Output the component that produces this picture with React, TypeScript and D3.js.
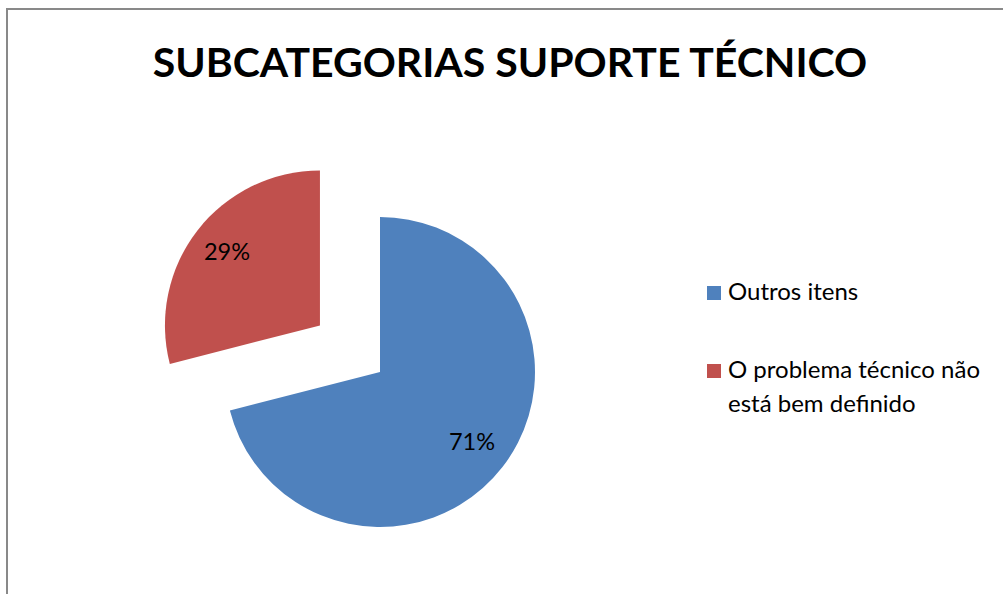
import React from "react";
import * as d3 from "d3";

const categories = ["Outros itens", "O problema técnico não está bem definido"];
const legendLines = [["Outros itens"], ["O problema técnico não", "está bem definido"]];
const values = [71, 29];
const labels = ["71%", "29%"];
const colors = ["#4f81bd", "#c0504d"];
const title = "SUBCATEGORIAS SUPORTE TÉCNICO";

export default function App() {
  const W = 1003, H = 594;
  const cx = 380, cy = 372, r = 155, explode = 76;
  const pie = d3.pie<number>().sort(null).value((d) => d)(values);
  const arc = d3.arc<any>().innerRadius(0).outerRadius(r);
  const font = "Lato, 'Open Sans', sans-serif";
  const labelPos = [
    [472, 444],
    [227, 254],
  ];
  return (
    <svg width={W} height={H} style={{ position: "absolute", left: 0, top: 0 }}>
      <rect x={0} y={0} width={W} height={H} fill="#fff" />
      <rect x={7} y={9} width={W + 10} height={H + 10} fill="none" stroke="#898989" strokeWidth={2} />
      <text x={510} y={77} textAnchor="middle" fontFamily={font} fontWeight="bold" fontSize={41} fill="#000">
        {title}
      </text>
      {pie.map((p, i) => {
        const mid = (p.startAngle + p.endAngle) / 2;
        const off = i === 1 ? explode : 0;
        const dx = Math.sin(mid) * off;
        const dy = -Math.cos(mid) * off;
        return (
          <g key={i} transform={`translate(${cx + dx},${cy + dy})`}>
            <path d={arc(p) as string} fill={colors[i]} />
          </g>
        );
      })}
      {labels.map((l, i) => (
        <text key={i} x={labelPos[i][0]} y={labelPos[i][1]} textAnchor="middle" dominantBaseline="middle"
          fontFamily={font} fontSize={23.5} fill="#000">{l}</text>
      ))}
      {categories.map((c, i) => {
        const y0 = i === 0 ? 300 : 378;
        return (
          <g key={c}>
            <rect x={707} y={y0 - 14} width={14} height={14} fill={colors[i]} />
            {legendLines[i].map((ln, j) => (
              <text key={j} x={728} y={y0 + j * 34} fontFamily={font} fontSize={24} fill="#000">{ln}</text>
            ))}
          </g>
        );
      })}
    </svg>
  );
}
